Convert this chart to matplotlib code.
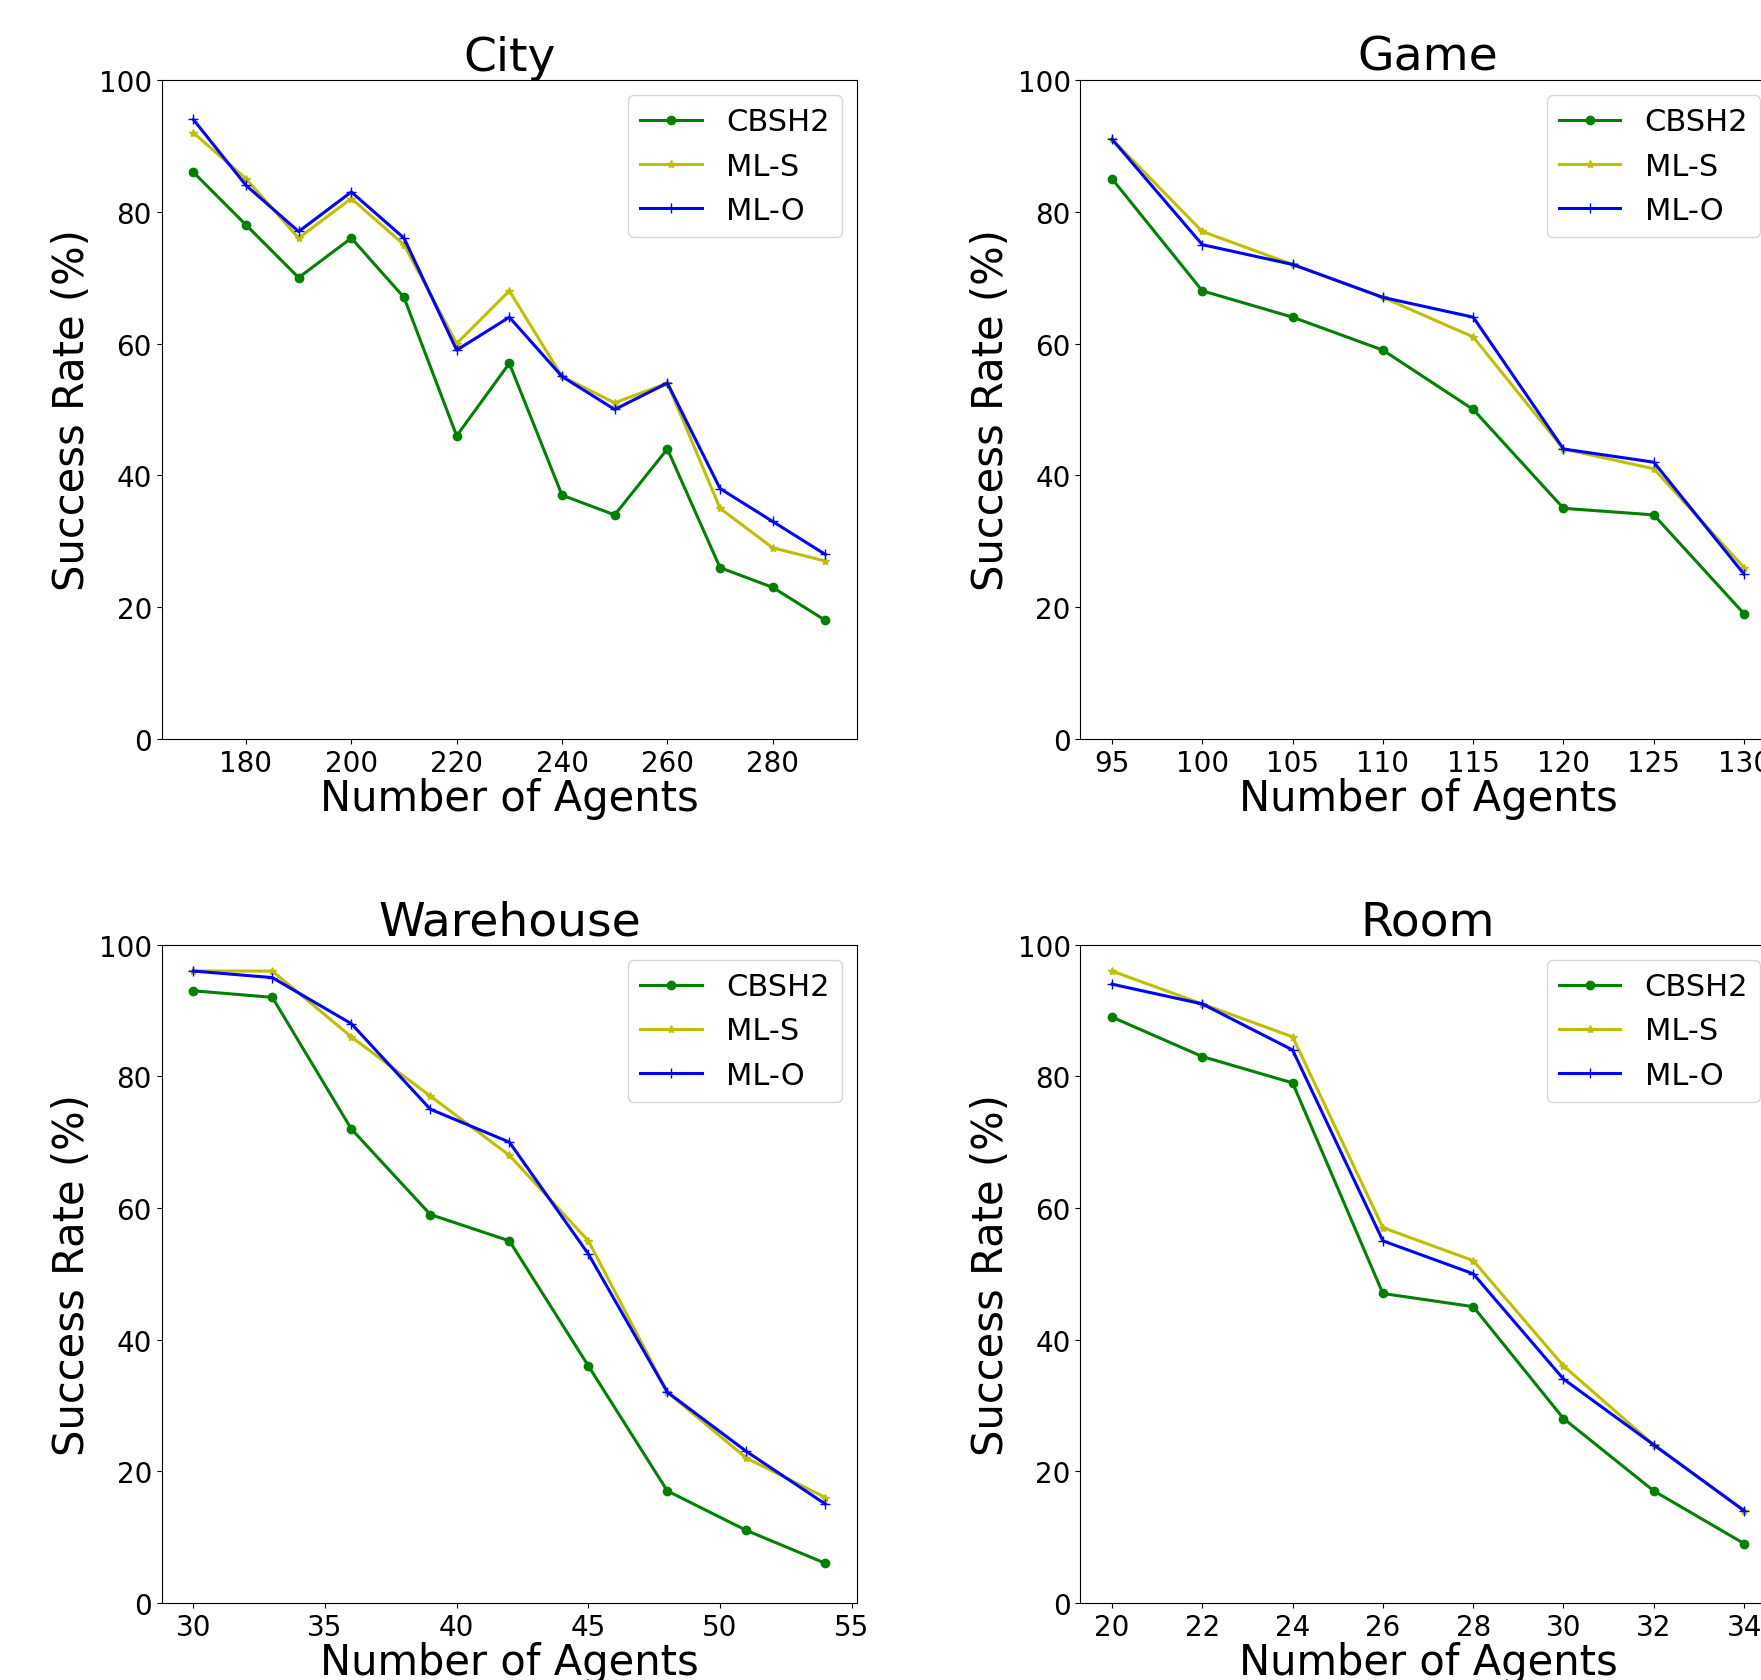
import matplotlib
matplotlib.use("Agg")
import matplotlib.pyplot as plt

series_names = ["CBSH2", "ML-S", "ML-O"]

city_x = [170, 180, 190, 200, 210, 220, 230, 240, 250, 260, 270, 280, 290]
city_cbsh2 = [86, 78, 70, 76, 67, 46, 57, 37, 34, 44, 26, 23, 18]
city_mls = [92, 85, 76, 82, 75, 60, 68, 55, 51, 54, 35, 29, 27]
city_mlo = [94, 84, 77, 83, 76, 59, 64, 55, 50, 54, 38, 33, 28]

game_x = [95, 100, 105, 110, 115, 120, 125, 130]
game_cbsh2 = [85, 68, 64, 59, 50, 35, 34, 19]
game_mls = [91, 77, 72, 67, 61, 44, 41, 26]
game_mlo = [91, 75, 72, 67, 64, 44, 42, 25]

wh_x = [30, 33, 36, 39, 42, 45, 48, 51, 54]
wh_cbsh2 = [93, 92, 72, 59, 55, 36, 17, 11, 6]
wh_mls = [96, 96, 86, 77, 68, 55, 32, 22, 16]
wh_mlo = [96, 95, 88, 75, 70, 53, 32, 23, 15]

room_x = [20, 22, 24, 26, 28, 30, 32, 34]
room_cbsh2 = [89, 83, 79, 47, 45, 28, 17, 9]
room_mls = [96, 91, 86, 57, 52, 36, 24, 14]
room_mlo = [94, 91, 84, 55, 50, 34, 24, 14]

W, H = 1761, 1681
fig = plt.figure(figsize=(W / 100, H / 100), dpi=100)

def px_axes(left, top, right, bottom):
    return fig.add_axes([left / W, 1 - bottom / H, (right - left) / W, (bottom - top) / H])

panels = [
    ("City", city_x, (city_cbsh2, city_mls, city_mlo), None, (161.7, 80.9, 857.0, 740.0)),
    ("Game", game_x, (game_cbsh2, game_mls, game_mlo), list(range(95, 131, 5)), (1080.4, 80.9, 1775.7, 740.0)),
    ("Warehouse", wh_x, (wh_cbsh2, wh_mls, wh_mlo), list(range(30, 56, 5)), (161.7, 945.7, 857.0, 1603.8)),
    ("Room", room_x, (room_cbsh2, room_mls, room_mlo), list(range(20, 35, 2)), (1080.4, 945.7, 1775.7, 1603.8)),
]

styles = [dict(color="g", marker="o", markersize=6),
          dict(color="y", marker="*", markersize=6),
          dict(color="b", marker="+", markersize=7)]

for title, xs, ys, xticks, box in panels:
    ax = px_axes(*box)
    for name, y, st in zip(series_names, ys, styles):
        ax.plot(xs, y, label=name, linewidth=2.2, **st)
    ax.set_ylim(0, 100)
    if xticks is not None:
        ax.set_xticks(xticks)
    ax.tick_params(labelsize=20)
    ax.set_title(title, fontsize=34)
    ax.set_xlabel("Number of Agents", fontsize=30, labelpad=0)
    ax.set_ylabel("Success Rate (%)", fontsize=30)
    ax.legend(loc="upper right", fontsize=22)

fig.savefig("out.png", dpi=100)
